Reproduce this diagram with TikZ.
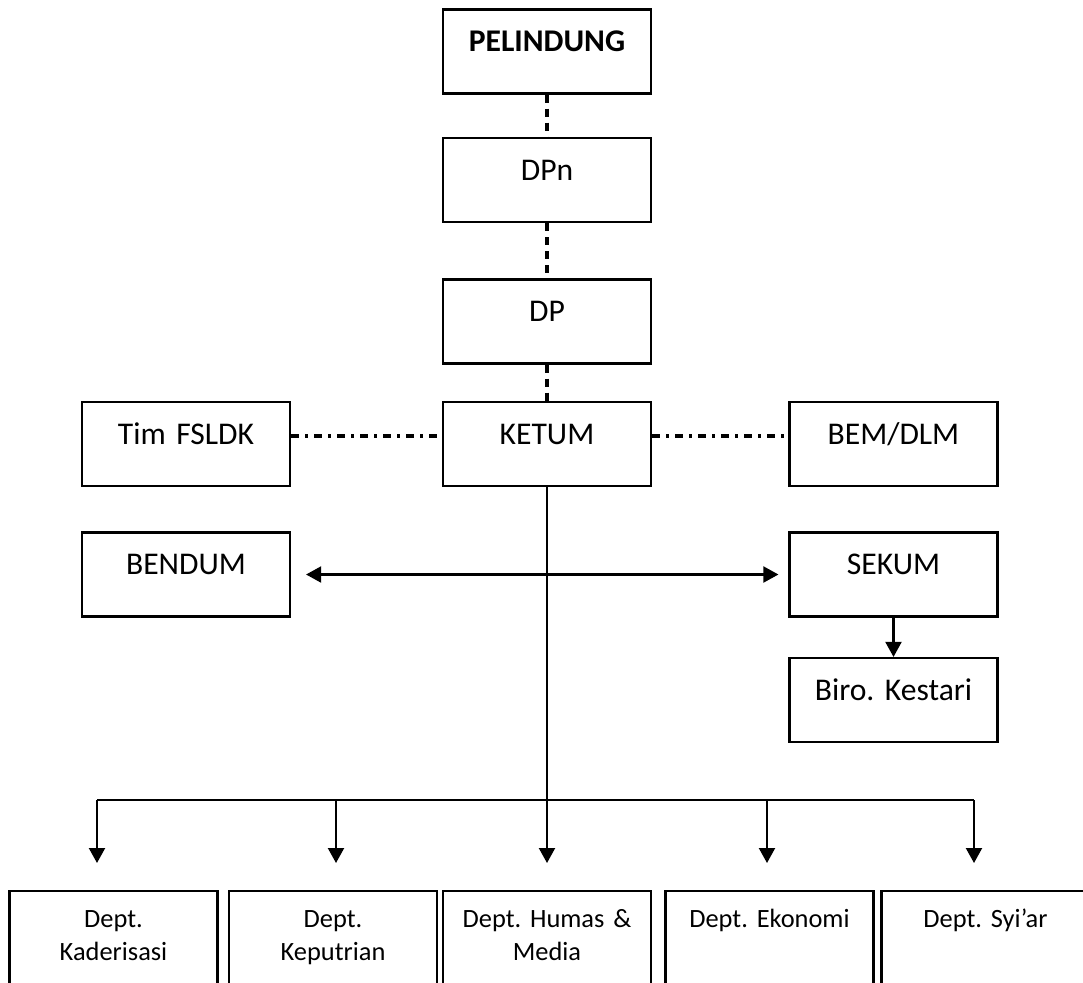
\documentclass[tikz,border=0pt]{standalone}
\usepackage{fontspec}
\setmainfont{Carlito}
\frenchspacing
\usepackage{tikz}
\usetikzlibrary{arrows.meta}

\begin{document}
\begin{tikzpicture}[x=0.5pt,y=-0.5pt,>={Triangle[width=8pt,length=7.5pt]},line width=1.05pt]
            \tikzstyle{unit}=[draw,rectangle,line width=1.1pt,inner xsep=0pt,inner ysep=0pt,text width=104pt,align=center,font=\fontsize{15.8}{19}\selectfont,text height=21pt,text depth=21pt]
            \tikzstyle{dept}=[unit,anchor=north,font=\fontsize{13.2}{16.5}\selectfont,text height=18pt,text depth=32pt]
            \tikzstyle{guide}=[line width=2pt,dash pattern=on 4pt off 3pt]
            \tikzstyle{liaison}=[line width=1.7pt,dash pattern=on 4pt off 3pt on 1.5pt off 3pt]

            \useasboundingbox (0,0) rectangle (1083,982);
            \clip (0,0) rectangle (1083,982);

            % struktur atas
            \node[unit,font=\fontsize{15.8}{19}\selectfont\bfseries] (pel) at (547,51.5) {PELINDUNG};
            \node[unit] (dpn)    at (547,180)   {DPn};
            \node[unit] (dp)     at (547,321.5) {DP};
            \node[unit] (ketum)  at (547,444)   {KETUM};
            \node[unit] (fsldk)  at (186,444)   {Tim FSLDK};
            \node[unit] (bem)    at (893.5,444) {BEM/DLM};
            \node[unit] (bendum) at (186,574.5) {BENDUM};
            \node[unit] (sekum)  at (893.5,574.5) {SEKUM};
            \node[unit] (biro)   at (893.5,700) {Biro. Kestari};

            % departemen
            \node[dept] (dkad) at (113.5,890) {Dept.\\Kaderisasi};
            \node[dept] (dkep) at (333,890)   {Dept.\\Keputrian};
            \node[dept] (dhum) at (547,890)   {Dept. Humas \&\\Media};
            \node[dept] (deko) at (769.5,890) {Dept. Ekonomi};
            \node[dept] (dsyi) at (985.5,890) {Dept. Syi’ar};

            \path   (pel) edge [guide] (dpn)
                    (dpn) edge [guide] (dp)
                    (dp)  edge [guide] (ketum);

            \draw[liaison] ([yshift=4pt]fsldk.east) -- ([yshift=4pt]ketum.west);
            \draw[liaison] ([yshift=4pt]ketum.east) -- ([yshift=4pt]bem.west);

            \draw[<->,shorten <=7.5pt,shorten >=5pt] (bendum) -- (sekum);
            \draw[->] (sekum) -- (biro);

            \coordinate (b1) at (97,800);
            \coordinate (b2) at (336,800);
            \coordinate (b4) at (767,800);
            \coordinate (b5) at (974,800);

            \draw (b1) -- (b5);
            \draw[->,shorten >=13.5pt] (ketum) -- (dhum);
            \draw[->,shorten >=13.5pt] (b1) -- (b1 |- dkad.north);
            \draw[->,shorten >=13.5pt] (b2) -- (b2 |- dkep.north);
            \draw[->,shorten >=13.5pt] (b4) -- (b4 |- deko.north);
            \draw[->,shorten >=13.5pt] (b5) -- (b5 |- dsyi.north);

        \end{tikzpicture}
\end{document}
